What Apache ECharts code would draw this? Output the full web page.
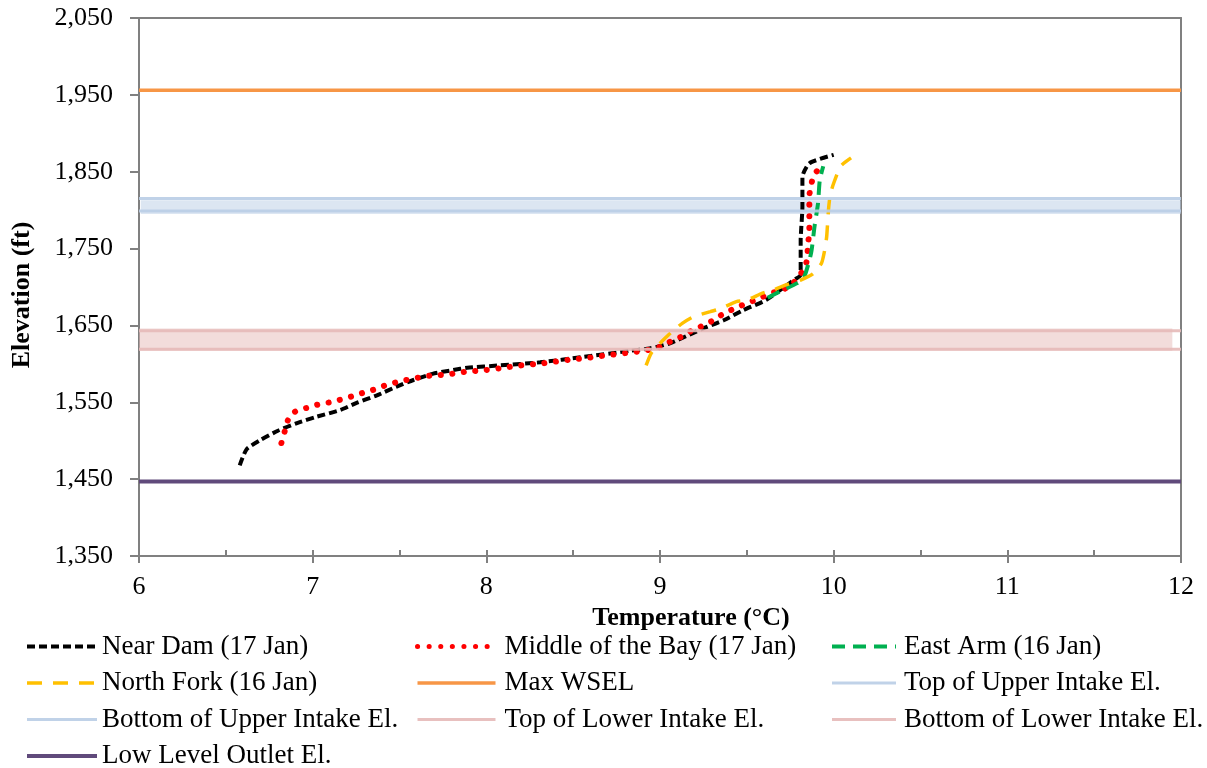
<!DOCTYPE html>
<html>
<head>
<meta charset="utf-8">
<script src="https://cdn.jsdelivr.net/npm/echarts@6/dist/echarts.min.js"></script>
<style>html,body{margin:0;padding:0;background:#fff}#c{width:1207px;height:768px}</style>
</head>
<body>
<div id="c"></div>
<script>
// ---- data (temperature °C, elevation ft) ----
const nearDamT = [6.58,6.62,6.70,6.80,6.91,7.02,7.16,7.25,7.37,7.48,7.58,7.69,7.81,7.89,8.08,8.31,8.56,8.83,8.94,9.06,9.17,9.27,9.37,9.48,9.61,9.77,9.81,9.81,9.82,9.82,9.86,10.00];
const nearDamE = [1468,1489,1501,1513,1523,1531,1540,1549,1559,1570,1579,1587,1592,1595,1598,1602,1609,1617,1620,1627,1638,1648,1657,1670,1683,1709,1716,1761,1804,1843,1861,1872];

const middleBayT = [6.82,6.84,6.86,6.90,6.97,7.03,7.10,7.17,7.23,7.30,7.36,7.43,7.50,7.56,7.63,7.69,7.77,7.83,7.89,8.00,8.10,8.20,8.30,8.40,8.50,8.59,8.65,8.73,8.80,8.87,8.93,9.00,9.06,9.12,9.18,9.25,9.31,9.37,9.43,9.49,9.56,9.62,9.68,9.75,9.83,9.85,9.85,9.86,9.86,9.86,9.86,9.87,9.89,9.94];
const middleBayE = [1497,1513,1528,1538,1543,1547,1550,1554,1558,1563,1567,1573,1577,1580,1583,1585,1586,1588,1590,1592,1595,1598,1600,1603,1606,1608,1610,1612,1614,1616,1618,1622,1629,1635,1643,1650,1657,1666,1672,1678,1684,1690,1695,1701,1724,1740,1753,1770,1785,1802,1818,1833,1847,1859];

const eastArmT = [9.62,9.69,9.79,9.83,9.87,9.89,9.91,9.92,9.94];
const eastArmE = [1686,1694,1705,1713,1744,1779,1809,1839,1857];

const northForkT = [8.92,8.95,9.01,9.07,9.13,9.19,9.29,9.35,9.44,9.50,9.59,9.65,9.73,9.81,9.88,9.93,9.95,9.96,9.97,9.98,10.00,10.04,10.10];
const northForkE = [1598,1614,1629,1642,1653,1661,1668,1672,1681,1683,1692,1696,1703,1709,1717,1731,1750,1766,1800,1820,1835,1857,1868];

const maxWSEL = 1956;
const topUpperIntake = 1815;
const bottomUpperIntake = 1799;
const topLowerIntake = 1643;
const bottomLowerIntake = 1619;
const lowLevelOutlet = 1447;

const xRange = [6, 12];
const xTicks = [6,7,8,9,10,11,12];
const xMinorTicks = [6,6.5,7,7.5,8,8.5,9,9.5,10,10.5,11,11.5,12];
const yTicks = [1350,1450,1550,1650,1750,1850,1950,2050];

// band extents (fill areas)
const upperBand = [1795, 1813];
const lowerBand = [1617, 1646];

// ---- build ----
const pair = (xs, ys) => xs.map((x, i) => [x, ys[i]]);
const hline = v => [[xRange[0], v], [xRange[1], v]];
const FONT = '"Liberation Serif","Times New Roman",serif';
const AX = '#808080';

const names = {
  nd: 'Near Dam (17 Jan)', mb: 'Middle of the Bay (17 Jan)', ea: 'East Arm (16 Jan)',
  nf: 'North Fork (16 Jan)', mw: 'Max WSEL', tu: 'Top of Upper Intake El.',
  bu: 'Bottom of Upper Intake El.', tl: 'Top of Lower Intake El.', bl: 'Bottom of Lower Intake El.',
  lo: 'Low Level Outlet El.'
};

function curve(name, data, color, width, type, cap, z) {
  return { name, type: 'line', data, symbol: 'none', showSymbol: false, smooth: 0.2, z: z || 3,
    lineStyle: { color, width, type, cap: cap || 'butt' }, itemStyle: { color } };
}
function ref(name, v, color, width, opacity, z) {
  return { name, type: 'line', data: hline(v), symbol: 'none', showSymbol: false, z: z || 4, silent: true,
    lineStyle: { color, width, opacity: opacity == null ? 1 : opacity }, itemStyle: { color } };
}

const series = [
  curve(names.nd, pair(nearDamT, nearDamE), '#000000', 4, [8, 4], 'butt', 3),
  curve(names.mb, pair(middleBayT, middleBayE), '#FF0000', 6, [0.1, 11.5], 'round', 3),
  curve(names.ea, pair(eastArmT, eastArmE), '#00B050', 4, [13, 8], 'butt', 3),
  curve(names.nf, pair(northForkT, northForkE), '#FFC000', 3.5, [15, 11], 'butt', 3),
  ref(names.mw, maxWSEL, '#F79646', 3.5),
  Object.assign(ref(names.tu, topUpperIntake, '#B9CDE5', 3, 0.9, 6), {
    markArea: { silent: true, itemStyle: { color: 'rgba(185,205,229,0.5)' },
      data: [[{ coord: [6.01, upperBand[0]] }, { coord: [12, upperBand[1]] }]] }
  }),
  ref(names.bu, bottomUpperIntake, '#B9CDE5', 3, 0.9, 6),
  Object.assign(ref(names.tl, topLowerIntake, '#E6B9B8', 3, 0.9, 6), {
    markArea: { silent: true, itemStyle: { color: 'rgba(230,185,184,0.5)' },
      data: [[{ coord: [6, lowerBand[0]] }, { coord: [11.95, lowerBand[1]] }]] }
  }),
  ref(names.bl, bottomLowerIntake, '#E6B9B8', 3, 0.9, 6),
  ref(names.lo, lowLevelOutlet, '#604A7B', 4)
];

// legend line widths per entry
const legendWidth = {};
legendWidth[names.nd] = { width: 4, cap: 'butt' };
legendWidth[names.mb] = { width: 5, cap: 'round' };
legendWidth[names.ea] = { width: 4, cap: 'butt' };
legendWidth[names.nf] = { width: 3.5, cap: 'butt' };
legendWidth[names.mw] = { width: 3.5 };
legendWidth[names.tu] = { width: 3 };
legendWidth[names.bu] = { width: 3 };
legendWidth[names.tl] = { width: 3 };
legendWidth[names.bl] = { width: 3 };
legendWidth[names.lo] = { width: 4 };

function legend(left, items, itemWidth, pad) {
  return {
    orient: 'vertical', left, top: 633, height: 300, padding: 0, itemWidth, itemHeight: 14, itemGap: 9.5,
    data: items.map(n => ({ name: n, lineStyle: legendWidth[n] })), selectedMode: false,
    itemStyle: { opacity: 0, color: 'rgba(0,0,0,0)', borderColor: 'rgba(0,0,0,0)', borderWidth: 0 },
    textStyle: { fontFamily: FONT, fontSize: 27, lineHeight: 24, color: '#000', padding: [0, 0, 0, pad] }
  };
}

const option = {
  animation: false,
  backgroundColor: '#fff',
  grid: { left: 139, right: 26, top: 18, bottom: 212, containLabel: false },
  xAxis: [
    { type: 'value', min: xRange[0], max: xRange[1], position: 'bottom',
      name: 'Temperature (°C)', nameLocation: 'middle', nameGap: 38,
      nameTextStyle: { fontFamily: FONT, fontSize: 26, fontWeight: 'bold', color: '#000', padding: [0, 0, 0, 62] },
      axisLine: { show: true, lineStyle: { color: AX, width: 2 } },
      axisTick: { show: true, inside: false, length: 7, lineStyle: { color: AX, width: 2 }, customValues: xTicks },
      axisLabel: { show: true, margin: 18, fontFamily: FONT, fontSize: 26, color: '#000', customValues: xTicks },
      splitLine: { show: false } },
    { type: 'value', min: xRange[0], max: xRange[1], position: 'bottom', gridIndex: 0,
      axisLine: { show: false },
      axisTick: { show: true, inside: true, length: 6, lineStyle: { color: AX, width: 2 }, customValues: xMinorTicks },
      axisLabel: { show: false }, splitLine: { show: false } },
    { type: 'value', min: xRange[0], max: xRange[1], position: 'top', gridIndex: 0,
      axisLine: { show: true, lineStyle: { color: AX, width: 2 } },
      axisTick: { show: false }, axisLabel: { show: false }, splitLine: { show: false } }
  ],
  yAxis: [
    { type: 'value', min: 1350, max: 2050, position: 'left',
      name: 'Elevation (ft)', nameLocation: 'middle', nameGap: 104, nameRotate: 90,
      nameTextStyle: { fontFamily: FONT, fontSize: 26, fontWeight: 'bold', color: '#000', padding: [0, 16, 0, 0] },
      axisLine: { show: true, lineStyle: { color: AX, width: 2 } },
      axisTick: { show: true, length: 9, lineStyle: { color: AX, width: 2 }, customValues: yTicks },
      axisLabel: { show: true, margin: 26, fontFamily: FONT, fontSize: 26, color: '#000', customValues: yTicks,
        formatter: v => Number(v).toLocaleString('en-US') },
      splitLine: { show: false } },
    { type: 'value', min: 1350, max: 2050, position: 'right',
      axisLine: { show: true, lineStyle: { color: AX, width: 2 } },
      axisTick: { show: false }, axisLabel: { show: false }, splitLine: { show: false } }
  ],
  legend: [
    legend(25, [names.nd, names.nf, names.bu, names.lo], 70, 0),
    legend(415, [names.mb, names.mw, names.tl], 78, 4),
    legend(830, [names.ea, names.tu, names.bl], 64, 3)
  ],
  series
};

const chart = echarts.init(document.getElementById('c'), null, { renderer: 'canvas' });
chart.setOption(option);
</script>
</body>
</html>
